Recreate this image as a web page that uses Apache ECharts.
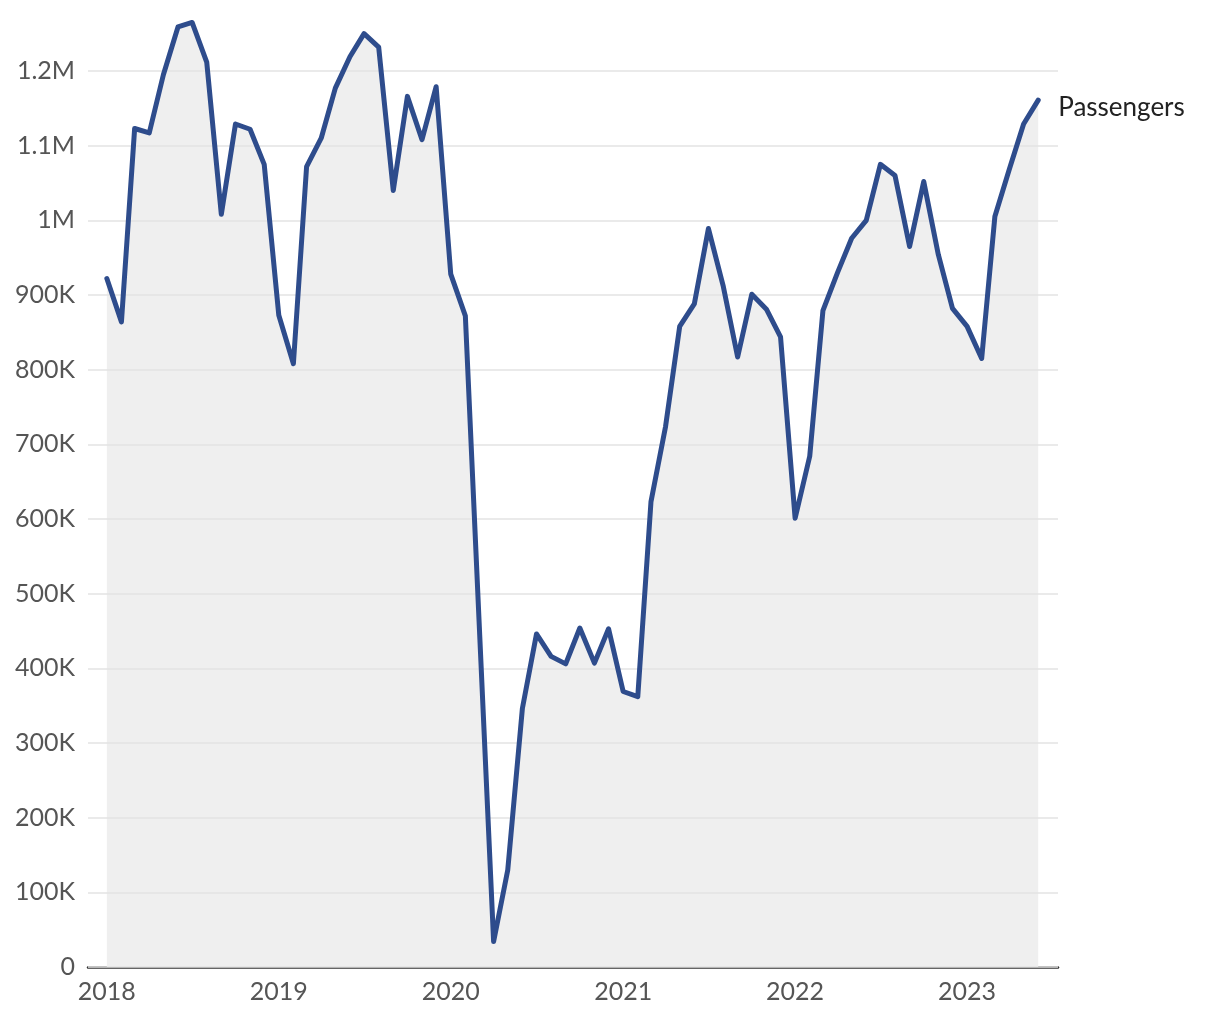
<!DOCTYPE html>
<html>
<head>
<meta charset="utf-8">
<script src="https://cdn.jsdelivr.net/npm/echarts@6/dist/echarts.min.js"></script>
<style>
  html, body { margin: 0; padding: 0; background: #fff; }
  #chart { width: 1220px; height: 1020px; }
</style>
</head>
<body>
<div id="chart"></div>
<script>
const months = [
  '2018-01','2018-02','2018-03','2018-04','2018-05','2018-06','2018-07','2018-08','2018-09','2018-10','2018-11','2018-12',
  '2019-01','2019-02','2019-03','2019-04','2019-05','2019-06','2019-07','2019-08','2019-09','2019-10','2019-11','2019-12',
  '2020-01','2020-02','2020-03','2020-04','2020-05','2020-06','2020-07','2020-08','2020-09','2020-10','2020-11','2020-12',
  '2021-01','2021-02','2021-03','2021-04','2021-05','2021-06','2021-07','2021-08','2021-09','2021-10','2021-11','2021-12',
  '2022-01','2022-02','2022-03','2022-04','2022-05','2022-06','2022-07','2022-08','2022-09','2022-10','2022-11','2022-12',
  '2023-01','2023-02','2023-03','2023-04','2023-05','2023-06'
];
const passengers = [
  922000, 864000, 1123000, 1117000, 1195000, 1259000, 1265000, 1212000, 1008000, 1129000, 1122000, 1075000,
  873000, 808000, 1072000, 1110000, 1177000, 1219000, 1250000, 1232000, 1040000, 1166000, 1108000, 1179000,
  928000, 872000, 465000, 34000, 130000, 346000, 446000, 416000, 406000, 454000, 407000, 453000,
  369000, 362000, 623000, 724000, 858000, 888000, 989000, 913000, 817000, 901000, 881000, 844000,
  601000, 684000, 879000, 930000, 976000, 1000000, 1075000, 1060000, 965000, 1052000, 954000, 882000,
  858000, 815000, 1005000, 1069000, 1129000, 1161000
];
const yearTicks = ['2018', '2019', '2020', '2021', '2022', '2023'];
const seriesName = 'Passengers';

const FONT = 'Lato, "Noto Sans", sans-serif';
const DAY = 86400000;
const ts = s => { const p = s.split('-').map(Number); return Date.UTC(p[0], (p[1] || 1) - 1, p[2] || 1); };
const data = months.map((m, i) => [ts(m), passengers[i]]);

const chart = echarts.init(document.getElementById('chart'), null, { renderer: 'canvas' });
chart.setOption({
  animation: false,
  grid: { left: 88, right: 162, top: 71, bottom: 53, containLabel: false },
  xAxis: {
    type: 'value',
    min: ts('2018-01') - 40 * DAY,
    max: ts('2023-06') + 42 * DAY,
    axisLine: { show: true, onZero: false, lineStyle: { color: '#333', width: 2.5 } },
    axisTick: { show: false },
    splitLine: { show: false },
    axisLabel: {
      customValues: yearTicks.map(y => ts(y)),
      formatter: v => String(new Date(v).getUTCFullYear()),
      color: '#555',
      fontFamily: FONT,
      fontSize: 25,
      margin: 12,
      showMinLabel: true,
      showMaxLabel: true
    }
  },
  yAxis: {
    type: 'value',
    min: 0,
    max: 1200000,
    interval: 100000,
    z: 2,
    axisLine: { show: false },
    axisTick: { show: false },
    splitLine: { show: true, lineStyle: { color: '#e3e3e3', width: 1.5 } },
    axisLabel: {
      color: '#555',
      fontFamily: FONT,
      fontSize: 25,
      margin: 13,
      formatter: v => v === 0 ? '0' : (v >= 1000000 ? (v / 1000000) + 'M' : (v / 1000) + 'K')
    }
  },
  series: [
    {
      name: seriesName + ' area',
      type: 'line',
      data: data,
      z: 1,
      clip: false,
      symbol: 'none',
      silent: true,
      lineStyle: { width: 0, opacity: 0 },
      areaStyle: { color: '#efefef', opacity: 1 }
    },
    {
      name: seriesName,
      type: 'line',
      data: data,
      z: 3,
      clip: false,
      symbol: 'none',
      lineStyle: { color: '#2e4c8c', width: 5, join: 'round', cap: 'round' },
      endLabel: {
        show: true,
        formatter: seriesName,
        color: '#222',
        fontFamily: FONT,
        fontSize: 26,
        distance: 20,
        offset: [0, 7]
      }
    }
  ]
});
</script>
</body>
</html>
